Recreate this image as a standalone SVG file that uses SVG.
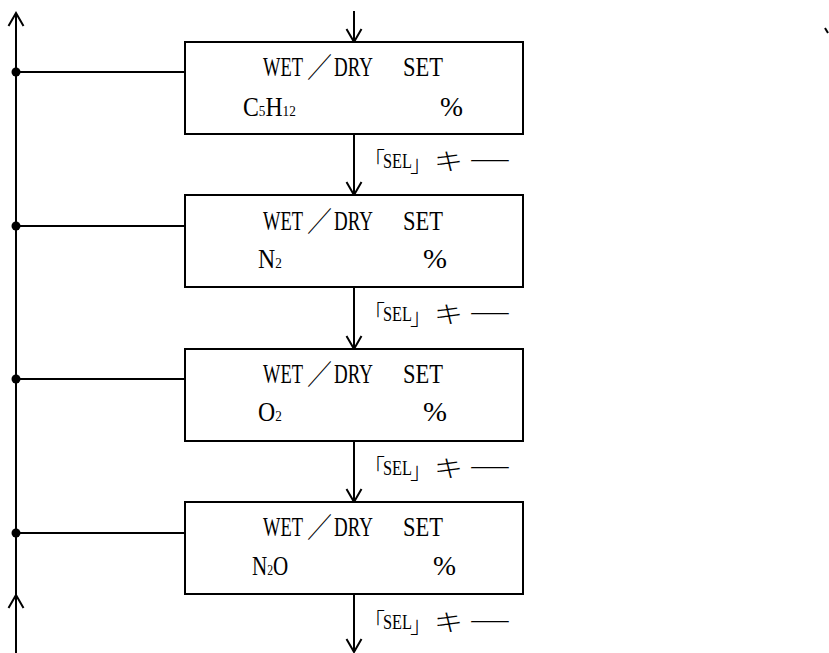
<svg xmlns="http://www.w3.org/2000/svg" width="829" height="653" viewBox="0 0 829 653">
<style>
.ln{fill:none;stroke:#000;stroke-width:2}
.bx{fill:#fff;stroke:#000;stroke-width:2}
.t{font-family:"Liberation Serif","Noto Sans CJK JP",serif;font-size:27px;fill:#000}
.s{font-size:15px}
.j{font-family:"Noto Sans CJK JP","Liberation Serif",sans-serif;font-size:28px;font-weight:300;fill:#000}
.l{font-family:"Liberation Serif","Noto Sans CJK JP",serif;font-size:20px;fill:#000}
.lb{font-family:"Noto Sans CJK JP",sans-serif;font-size:22px;font-weight:300;fill:#000}
.lj{font-family:"Noto Sans CJK JP",sans-serif;font-size:24px;font-weight:300;fill:#000}
</style>
<defs>
<path id="hd" d="M-7.5,-13 L0,0 L7.5,-13" class="ln"/>
<path id="up" d="M-7.5,13 L0,0 L7.5,13" class="ln"/>
<g id="title">
<text class="t" x="263" y="0" textLength="40" lengthAdjust="spacingAndGlyphs">WET</text>
<text class="j" x="307" y="2" textLength="25" lengthAdjust="spacingAndGlyphs">／</text>
<text class="t" x="334" y="0" textLength="39" lengthAdjust="spacingAndGlyphs">DRY</text>
<text class="t" x="403" y="0" textLength="40" lengthAdjust="spacingAndGlyphs">SET</text>
</g>
<g id="sel">
<text class="lb" x="363" y="0">「</text>
<text class="l" x="383" y="0" textLength="29" lengthAdjust="spacingAndGlyphs">SEL</text>
<text class="lb" x="410" y="3">」</text>
<text class="lj" x="434" y="2" textLength="29" lengthAdjust="spacingAndGlyphs">キ</text>
<text class="lj" x="466" y="2" textLength="48" lengthAdjust="spacingAndGlyphs">ー</text>
</g>
</defs>

<g id="connectors">
<line class="ln" x1="16" y1="13" x2="16" y2="653"/>
<use href="#up" x="16" y="13"/>
<use href="#up" x="16" y="595"/>
<line class="ln" x1="16" y1="72" x2="185" y2="72"/>
<line class="ln" x1="16" y1="226" x2="185" y2="226"/>
<line class="ln" x1="16" y1="379" x2="185" y2="379"/>
<line class="ln" x1="16" y1="533" x2="185" y2="533"/>
<circle cx="16" cy="72" r="4.5"/>
<circle cx="16" cy="226" r="4.5"/>
<circle cx="16" cy="379" r="4.5"/>
<circle cx="16" cy="533" r="4.5"/>
<line class="ln" x1="354" y1="11" x2="354" y2="42"/>
<use href="#hd" x="354" y="42"/>
<line class="ln" x1="354" y1="134" x2="354" y2="195"/>
<use href="#hd" x="354" y="195"/>
<line class="ln" x1="354" y1="287" x2="354" y2="349"/>
<use href="#hd" x="354" y="349"/>
<line class="ln" x1="354" y1="441" x2="354" y2="502"/>
<use href="#hd" x="354" y="502"/>
<line class="ln" x1="354" y1="594" x2="354" y2="652"/>
<use href="#hd" x="354" y="652"/>
<use href="#sel" y="168"/>
<use href="#sel" y="321"/>
<use href="#sel" y="475"/>
<use href="#sel" y="629"/>
<line class="ln" x1="825" y1="28" x2="828" y2="33"/>
</g>

<g id="node1">
<rect class="bx" x="185" y="42" width="338" height="92"/>
<use href="#title" y="76"/>
<text class="t" transform="translate(243,116) scale(0.88,1)">C<tspan class="s">5</tspan>H<tspan class="s">12</tspan></text>
<text class="t" x="440" y="116" textLength="23" lengthAdjust="spacingAndGlyphs">%</text>
</g>

<g id="node2">
<rect class="bx" x="185" y="195" width="338" height="92"/>
<use href="#title" y="230"/>
<text class="t" transform="translate(258,268) scale(0.88,1)">N<tspan class="s">2</tspan></text>
<text class="t" x="423" y="268" textLength="24" lengthAdjust="spacingAndGlyphs">%</text>
</g>

<g id="node3">
<rect class="bx" x="185" y="349" width="338" height="92"/>
<use href="#title" y="383"/>
<text class="t" transform="translate(258,421) scale(0.88,1)">O<tspan class="s">2</tspan></text>
<text class="t" x="423" y="421" textLength="24" lengthAdjust="spacingAndGlyphs">%</text>
</g>

<g id="node4">
<rect class="bx" x="185" y="502" width="338" height="92"/>
<use href="#title" y="536"/>
<text class="t" transform="translate(252,575) scale(0.78,1)">N<tspan class="s">2</tspan>O</text>
<text class="t" x="433" y="575" textLength="23" lengthAdjust="spacingAndGlyphs">%</text>
</g>
</svg>
